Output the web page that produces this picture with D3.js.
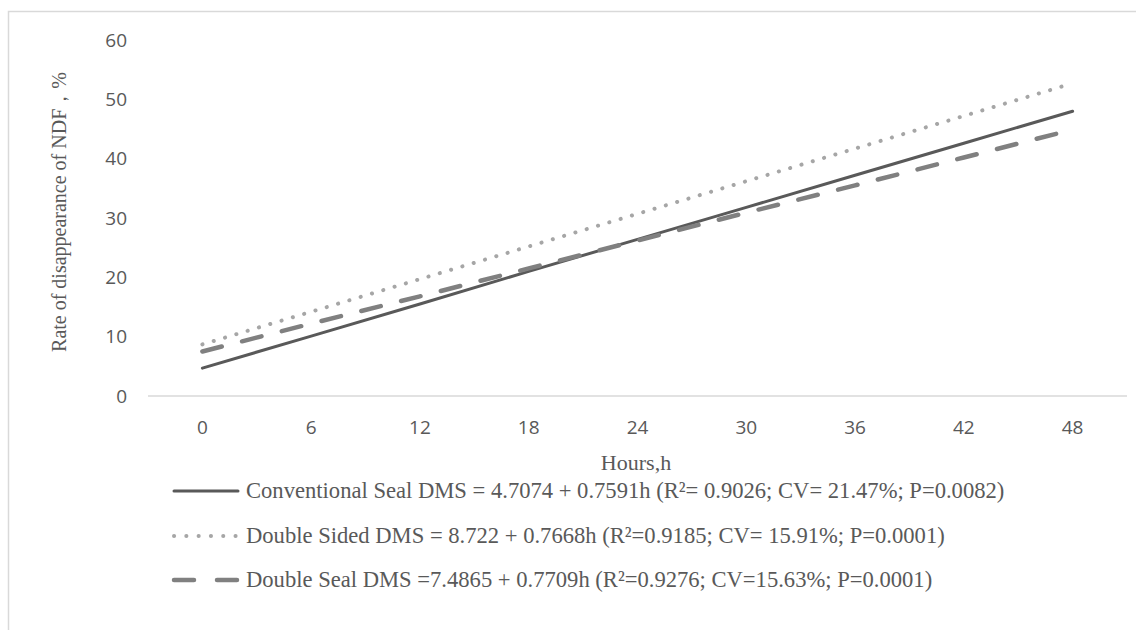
<!DOCTYPE html>
<html>
<head>
<meta charset="utf-8">
<script src="https://cdn.jsdelivr.net/npm/d3@7"></script>
<style>
  body { margin: 0; background: #fff; }
  svg { display: block; }
  .serif { font-family: "Liberation Serif", "Times New Roman", "DejaVu Serif", serif; }
  .sans { font-family: "Open Sans", "Liberation Sans", sans-serif; }
</style>
</head>
<body>
<div id="chart"></div>
<script>
// hours on the category axis
const hours = ["0", "6", "12", "18", "24", "30", "36", "42", "48"];
const yTicks = [0, 10, 20, 30, 40, 50, 60];

// values
const conventional = [4.7, 10.1, 15.5, 21.0, 26.4, 31.8, 37.2, 42.6, 48.0];
const doubleSided = [8.7, 14.2, 19.7, 25.2, 30.7, 36.2, 41.7, 47.2, 52.7];
const doubleSeal  = [7.5, 12.2, 16.8, 21.5, 26.2, 30.9, 35.5, 40.2, 44.9];

const seriesNames = [
  "Conventional Seal DMS = 4.7074 + 0.7591h (R²= 0.9026; CV= 21.47%; P=0.0082)",
  "Double Sided DMS = 8.722 + 0.7668h (R²=0.9185; CV= 15.91%; P=0.0001)",
  "Double Seal DMS =7.4865 + 0.7709h (R²=0.9276; CV=15.63%; P=0.0001)"
];

const W = 1136, H = 630;
const margin = { top: 40, right: 9, bottom: 234, left: 148 };

const svg = d3.select("#chart").append("svg")
  .attr("width", W)
  .attr("height", H);

// chart area border
svg.append("rect")
  .attr("x", 8.5).attr("y", 11.5)
  .attr("width", W + 10).attr("height", H + 10)
  .attr("fill", "none")
  .attr("stroke", "#d9d9d9")
  .attr("stroke-width", 1.5);

const x = d3.scaleBand().domain(hours).range([margin.left, W - margin.right]);
const y = d3.scaleLinear().domain([0, 60]).range([H - margin.bottom, margin.top]);

// baseline
svg.append("line")
  .attr("x1", margin.left).attr("x2", W - margin.right)
  .attr("y1", y(0)).attr("y2", y(0))
  .attr("stroke", "#d9d9d9").attr("stroke-width", 1.3);

// y tick labels
svg.append("g")
  .selectAll("text")
  .data(yTicks)
  .enter().append("text")
  .attr("class", "sans")
  .attr("x", 127)
  .attr("y", d => y(d))
  .attr("dy", "0.35em")
  .attr("text-anchor", "end")
  .attr("font-size", "19px")
  .attr("fill", "#595959")
  .text(d => d);

// x tick labels
svg.append("g")
  .selectAll("text")
  .data(hours)
  .enter().append("text")
  .attr("class", "sans")
  .attr("x", d => x(d) + x.bandwidth() / 2)
  .attr("y", y(0) + 31)
  .attr("dy", "0.35em")
  .attr("text-anchor", "middle")
  .attr("font-size", "19px")
  .attr("fill", "#595959")
  .text(d => d);

// axis titles
svg.append("text")
  .attr("class", "serif")
  .attr("transform", "translate(66, 212) rotate(-90)")
  .attr("text-anchor", "middle")
  .attr("font-size", "20px")
  .attr("fill", "#595959")
  .text("Rate of disappearance of NDF，%");

svg.append("text")
  .attr("class", "serif")
  .attr("x", 636)
  .attr("y", 463)
  .attr("dy", "0.33em")
  .attr("text-anchor", "middle")
  .attr("font-size", "22px")
  .attr("fill", "#595959")
  .text("Hours,h");

const styles = [
  { data: conventional, color: "#595959", width: 3, dash: null, legendDash: null },
  { data: doubleSided, color: "#a6a6a6", width: 4, dash: "0.1 11.7", legendDash: "0.1 12.2" },
  { data: doubleSeal, color: "#808080", width: 4.5, dash: "20 21", legendDash: "20 23" }
];

const line = d3.line()
  .x((d, i) => x(hours[i]) + x.bandwidth() / 2)
  .y(d => y(d));

styles.forEach(s => {
  svg.append("path")
    .datum(s.data)
    .attr("fill", "none")
    .attr("stroke", s.color)
    .attr("stroke-width", s.width)
    .attr("stroke-linecap", "round")
    .attr("stroke-dasharray", s.dash)
    .attr("d", line);
});

// legend
const legendY = [491, 536, 580];
const legend = svg.append("g");
styles.forEach((s, i) => {
  legend.append("line")
    .attr("x1", 174).attr("x2", 238)
    .attr("y1", legendY[i]).attr("y2", legendY[i])
    .attr("stroke", s.color)
    .attr("stroke-width", s.width)
    .attr("stroke-linecap", "round")
    .attr("stroke-dasharray", s.legendDash);
  legend.append("text")
    .attr("class", "serif")
    .attr("x", 246)
    .attr("y", legendY[i])
    .attr("dy", "0.33em")
    .attr("font-size", "22.6px")
    .attr("fill", "#595959")
    .text(seriesNames[i]);
});
</script>
</body>
</html>
